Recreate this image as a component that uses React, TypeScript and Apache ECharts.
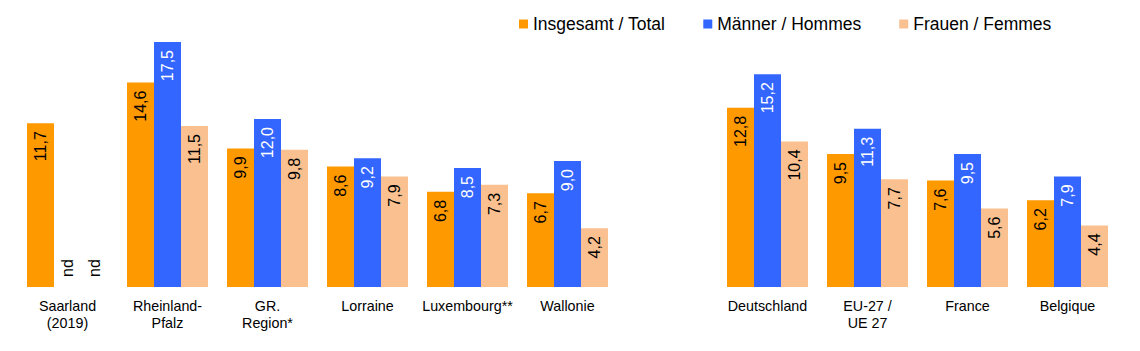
import React, { useEffect, useRef } from "react";
import * as echarts from "echarts";

const categories = [
  "Saarland\n(2019)",
  "Rheinland-\nPfalz",
  "GR.\nRegion*",
  "Lorraine",
  "Luxembourg**",
  "Wallonie",
  "",
  "Deutschland",
  "EU-27 /\nUE 27",
  "France",
  "Belgique",
];

// null in a real category = "nd" (no data); the empty category is a spacer
const totalValues = [11.7, 14.6, 9.9, 8.6, 6.8, 6.7, null, 12.8, 9.5, 7.6, 6.2];
const menValues = [null, 17.5, 12.0, 9.2, 8.5, 9.0, null, 15.2, 11.3, 9.5, 7.9];
const womenValues = [null, 11.5, 9.8, 7.9, 7.3, 4.2, null, 10.4, 7.7, 5.6, 4.4];

const seriesNames = ["Insgesamt / Total", "Männer / Hommes", "Frauen / Femmes"];
const seriesColors = ["#FF9900", "#3366FF", "#FAC090"];
const labelColors = ["#000000", "#FFFFFF", "#000000"];

const FONT = "'Liberation Sans', Arial, sans-serif";

function buildData(values: (number | null)[]) {
  return values.map((v, i) => {
    if (v === null && categories[i] !== "") {
      return {
        value: 0,
        label: {
          show: true,
          formatter: "nd",
          position: "insideBottom",
          distance: 10,
          align: "left",
          verticalAlign: "middle",
          color: "#000",
        },
      };
    }
    return v === null ? { value: null } : { value: v };
  });
}

export default function App() {
  const ref = useRef<HTMLDivElement>(null);
  useEffect(() => {
    if (!ref.current) return;
    const chart = echarts.init(ref.current, undefined, { renderer: "svg" });
    const allValues = [totalValues, menValues, womenValues];
    chart.setOption({
      animation: false,
      backgroundColor: "#ffffff",
      textStyle: { fontFamily: FONT },
      legend: {
        top: 10,
        left: 514,
        itemWidth: 9,
        itemHeight: 9,
        itemGap: 38,
        icon: "rect",
        textStyle: { fontSize: 17.5, color: "#000", fontFamily: FONT },
        data: seriesNames,
      },
      grid: { left: 17.5, right: 22.5, top: 7, bottom: 64, containLabel: false },
      xAxis: {
        type: "category",
        data: categories,
        axisLine: { show: false },
        axisTick: { show: false },
        axisLabel: {
          interval: 0,
          fontSize: 14.3,
          lineHeight: 17,
          margin: 10,
          color: "#000",
          fontFamily: FONT,
        },
      },
      yAxis: {
        type: "value",
        min: 0,
        max: 20,
        show: false,
        splitLine: { show: false },
      },
      series: seriesNames.map((name, si) => ({
        name,
        type: "bar",
        barGap: "0%",
        barCategoryGap: "19%",
        itemStyle: { color: seriesColors[si] },
        label: {
          show: true,
          position: "insideTop",
          distance: 8,
          rotate: 90,
          align: "right",
          verticalAlign: "middle",
          fontSize: 16,
          fontFamily: FONT,
          color: labelColors[si],
          formatter: (p: any) =>
            p.value === null || p.value === undefined
              ? ""
              : Number(p.value).toFixed(1).replace(".", ","),
        },
        data: buildData(allValues[si]),
      })),
    });
    return () => chart.dispose();
  }, []);
  return (
    <div
      ref={ref}
      style={{ position: "absolute", left: 0, top: 0, width: 1140, height: 351 }}
    />
  );
}
